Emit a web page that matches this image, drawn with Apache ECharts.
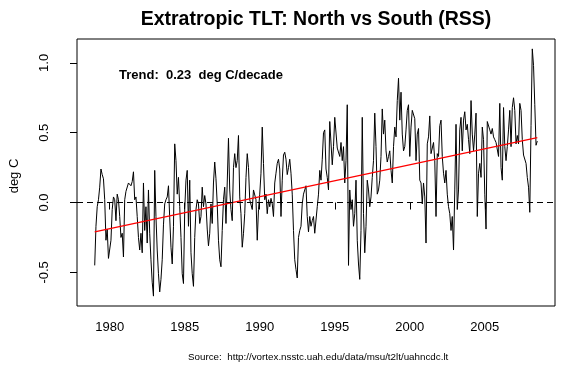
<!DOCTYPE html>
<html><head><meta charset="utf-8">
<script src="https://cdn.jsdelivr.net/npm/echarts@6/dist/echarts.min.js"></script>
<style>html,body{margin:0;padding:0;background:#fff}#c{width:574px;height:374px}</style>
</head><body><div id="c"></div>
<script>
// Monthly TLT anomalies (deg C), starting January 1979
const startYear = 1979;
const anom1979_1983 = [
  -0.45, -0.17, -0.03, 0.02, 0.11, 0.24, 0.20, 0.17, 0.02, -0.27, -0.19, -0.40,
  -0.41, -0.27, -0.05, 0.04, 0.02, -0.13, 0.06, 0.02, -0.10, -0.25, -0.22, -0.39,
  0.02, 0.08, 0.09, 0.14, 0.15, 0.12, 0.15, 0.22, 0.02, 0.04, -0.10, -0.25,
  -0.34, -0.22, -0.36, 0.14, -0.20, -0.03, -0.29, 0.09, -0.22, -0.41, -0.57, -0.67,
  0.23, -0.10, -0.34, -0.51, -0.64, -0.55, -0.41, -0.16, -0.01, 0.02, 0.04, 0.12
];
const anom1984_1988 = [
  -0.11, -0.32, -0.44, -0.17, 0.42, 0.30, 0.06, 0.18, -0.03, -0.25, -0.51, -0.58,
  -0.05, 0.16, 0.23, -0.17, 0.16, -0.36, -0.51, -0.60, -0.25, -0.05, 0.02, -0.01,
  -0.15, -0.10, 0.11, -0.03, 0.05, -0.01, -0.19, -0.31, -0.22, -0.01, -0.15, 0.14,
  0.29, 0.17, -0.01, -0.27, -0.41, -0.46, -0.20, 0.02, 0.11, -0.15, 0.14, 0.46,
  0.09, -0.05, -0.13, 0.25, 0.35, 0.25, 0.30, 0.48, 0.04, -0.08, -0.32, -0.22
];
const anom1989_1993 = [
  -0.08, 0.18, 0.35, 0.25, 0.02, 0.02, -0.05, 0.09, 0.10, 0.02, -0.27, -0.05,
  0.06, 0.21, 0.54, 0.28, 0.02, 0.06, -0.08, 0.02, -0.03, 0.03, -0.01, -0.10,
  0.14, 0.21, 0.28, 0.31, 0.24, -0.10, 0.16, 0.34, 0.36, 0.31, 0.20, 0.25,
  0.31, 0.21, 0.06, -0.20, -0.41, -0.48, -0.54, -0.25, -0.20, -0.17, -0.01, 0.06,
  0.09, 0.12, -0.10, -0.21, -0.10, -0.17, -0.13, -0.10, -0.22, -0.22, -0.03, 0.06
];
const anom1994_1998 = [
  0.23, 0.16, 0.31, 0.50, 0.52, 0.24, 0.18, 0.09, 0.58, 0.59, 0.27, 0.40,
  0.61, 0.62, 0.39, 0.40, 0.33, 0.43, 0.30, 0.40, 0.14, 0.30, 0.70, -0.45,
  0.09, -0.05, 0.02, -0.17, -0.08, 0.16, -0.27, -0.44, -0.55, -0.20, 0.61, -0.08,
  -0.36, -0.17, 0.16, 0.09, -0.03, 0.04, 0.18, 0.30, 0.64, 0.40, 0.06, 0.09,
  0.16, 0.33, 0.67, 0.49, 0.59, 0.37, 0.29, 0.33, 0.37, 0.23, 0.14, 0.40
];
const anom1999_2003 = [
  0.54, 0.47, 0.73, 0.89, 0.59, 0.79, 0.49, 0.37, 0.40, 0.52, 0.66, 0.70,
  0.33, 0.54, 0.66, 0.65, 0.60, 0.30, 0.49, 0.53, 0.16, 0.14, -0.01, 0.14,
  0.04, -0.29, 0.42, 0.47, 0.62, 0.35, 0.35, 0.43, 0.30, -0.10, 0.35, 0.33,
  0.55, 0.59, 0.33, 0.21, 0.14, 0.23, 0.06, -0.03, -0.08, -0.20, -0.10, -0.34,
  0.09, 0.56, -0.05, 0.09, 0.52, 0.61, 0.37, 0.59, 0.65, 0.52, 0.56, 0.45
];
const anom2004_2008 = [
  0.35, 0.73, 0.49, 0.37, 0.49, 0.64, -0.10, 0.21, 0.28, 0.18, 0.54, 0.45,
  0.06, -0.19, 0.58, 0.59, 0.52, 0.49, 0.53, 0.47, 0.45, 0.43, 0.42, 0.33,
  0.71, 0.25, 0.16, 0.68, 0.40, 0.30, 0.40, 0.52, 0.66, 0.40, 0.68, 0.75,
  0.66, 0.42, 0.48, 0.42, 0.71, 0.66, 0.45, 0.34, 0.35, 0.28, 0.18, 0.11,
  -0.07, 0.55, 1.10, 0.98, 0.70, 0.41, 0.44
];
// Linear trend end points (year, deg C)
const trendYears = [1979, 2008.5];
const trendValues = [-0.21, 0.465];
const xTickYears = [1980, 1985, 1990, 1995, 2000, 2005];
const yTickValues = [-0.5, 0.0, 0.5, 1.0];
const titleText = 'Extratropic TLT: North vs South (RSS)';
const trendText = 'Trend:  0.23  deg C/decade';
const sourceText = 'Source:  http://vortex.nsstc.uah.edu/data/msu/t2lt/uahncdc.lt';
const yLabel = 'deg C';

const allAnom = [].concat(anom1979_1983, anom1984_1988, anom1989_1993, anom1994_1998, anom1999_2003, anom2004_2008);
const seriesData = allAnom.map((v, i) => [startYear + i / 12, v]);
const trendData = trendYears.map((y, i) => [y, trendValues[i]]);

const FONT = '"Liberation Sans", Arial, sans-serif';
const chart = echarts.init(document.getElementById('c'), null, {renderer: 'canvas'});
chart.setOption({
  animation: false,
  backgroundColor: '#fff',
  grid: {left: 77, right: 19, top: 39, bottom: 68, show: true, borderColor: '#000', borderWidth: 1, backgroundColor: 'transparent'},
  xAxis: {
    type: 'value', min: 1977.82, max: 2009.68,
    axisLine: {show: false},
    splitLine: {show: false},
    axisTick: {show: true, length: 7, customValues: xTickYears, lineStyle: {color: '#000', width: 1}},
    axisLabel: {show: true, customValues: xTickYears, color: '#000', fontSize: 13, fontFamily: FONT, margin: 15, formatter: v => String(v)}
  },
  yAxis: {
    type: 'value', min: -0.7408, max: 1.1708,
    axisLine: {show: false},
    splitLine: {show: false},
    axisTick: {show: true, length: 7, customValues: yTickValues, lineStyle: {color: '#000', width: 1}},
    axisLabel: {show: true, customValues: yTickValues, rotate: 90, color: '#000', fontSize: 13, fontFamily: FONT, margin: 26, formatter: v => v.toFixed(1)}
  },
  graphic: [
    {type: 'text', x: 316, y: 10, style: {text: titleText, fontSize: 19.5, fontWeight: 'bold', fontFamily: FONT, fill: '#000', align: 'center', verticalAlign: 'top'}},
    {type: 'text', x: 119, y: 69, style: {text: trendText, fontSize: 13, fontWeight: 'bold', fontFamily: FONT, fill: '#000'}},
    {type: 'text', x: 188, y: 352, style: {text: sourceText, fontSize: 9.8, fontFamily: FONT, fill: '#000'}},
    {type: 'text', x: 8, y: 176, rotation: Math.PI / 2, style: {text: yLabel, fontSize: 13, fontFamily: FONT, fill: '#000', align: 'center', verticalAlign: 'top'}}
  ],
  series: [
    {
      type: 'line', data: seriesData, showSymbol: false, symbol: 'none',
      lineStyle: {color: '#000', width: 1}, z: 2,
      markLine: {silent: true, symbol: 'none', label: {show: false},
        lineStyle: {color: '#000', width: 1, type: [6, 4]}, data: [{yAxis: 0}]}
    },
    {
      type: 'line', data: trendData, showSymbol: false, symbol: 'none',
      lineStyle: {color: '#ff0000', width: 1.3}, z: 3
    }
  ]
});
</script></body></html>
